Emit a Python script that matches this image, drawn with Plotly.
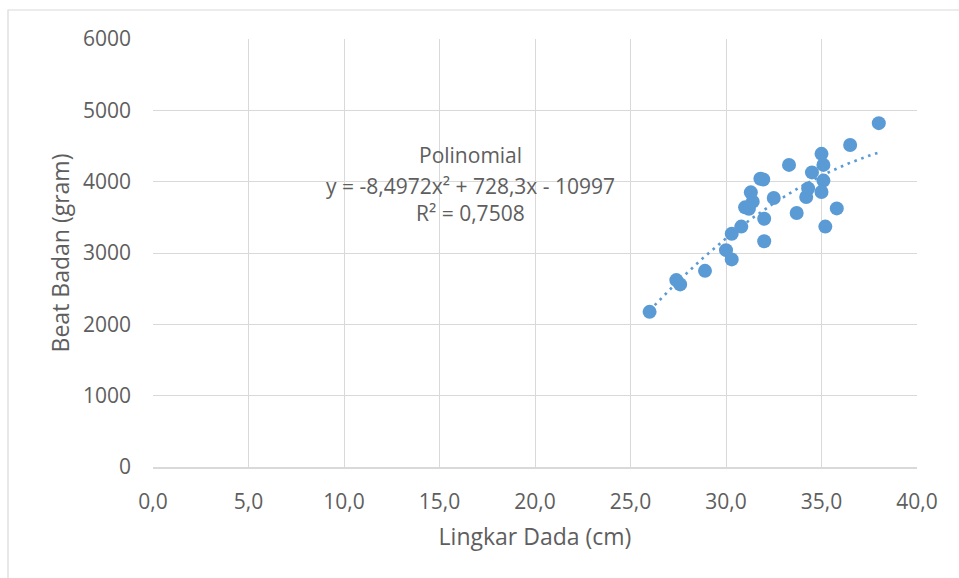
import numpy as np
import plotly.graph_objects as go

# Data
lingkar_dada = [26.0, 27.4, 27.6, 28.9, 30.0, 30.3, 30.3, 30.8, 31.0, 31.2, 31.4, 31.3,
                31.8, 31.95, 32.0, 32.0, 32.5, 33.3, 33.7, 34.2, 34.3, 34.5, 35.0, 35.1,
                35.1, 35.0, 35.2, 35.8, 36.5, 38.0]
berat_badan = [2175, 2620, 2560, 2750, 3040, 2910, 3270, 3370, 3640, 3620, 3720, 3850,
               4040, 4030, 3480, 3165, 3770, 4235, 3560, 3785, 3905, 4130, 4390, 4235,
               4015, 3855, 3370, 3625, 4515, 4820]

# Polynomial trendline coefficients as printed on the chart
poly_coef = [-8.4972, 728.3, -10997]
trend_label = ["Polinomial", "y = -8,4972x² + 728,3x - 10997", "R² = 0,7508"]

x_ticks = [0, 5, 10, 15, 20, 25, 30, 35, 40]
x_ticktext = ["0,0", "5,0", "10,0", "15,0", "20,0", "25,0", "30,0", "35,0", "40,0"]
y_ticks = [0, 1000, 2000, 3000, 4000, 5000, 6000]

FONT = "Open Sans"
TXT = "#5e5e5e"
BLUE = "#5B9BD5"
GRID = "#D9D9D9"

xt = np.linspace(min(lingkar_dada), max(lingkar_dada), 200)
yt = np.polyval(poly_coef, xt)

fig = go.Figure()
fig.add_trace(go.Scatter(x=xt, y=yt, mode="lines",
                         line=dict(color=BLUE, width=2.6, dash="2.6px,4.7px"),
                         hoverinfo="skip", showlegend=False))
fig.add_trace(go.Scatter(x=lingkar_dada, y=berat_badan, mode="markers",
                         marker=dict(color=BLUE, size=14, line=dict(width=0)),
                         showlegend=False))

for txt, yv in zip(trend_label, [4374, 3939, 3561]):
    fig.add_annotation(x=16.6, y=yv, xref="x", yref="y", text=txt, showarrow=False,
                       font=dict(family=FONT, size=21, color=TXT), xanchor="center", yanchor="middle")

fig.add_shape(type="rect", xref="paper", yref="paper", x0=-0.1898, x1=1.3, y0=-0.6, y1=1.0678,
              line=dict(color=GRID, width=1.2), fillcolor="rgba(0,0,0,0)", layer="below")

fig.update_layout(
    width=959, height=578,
    margin=dict(l=153, r=42, t=39, b=111),
    paper_bgcolor="white", plot_bgcolor="rgba(0,0,0,0)",
    font=dict(family=FONT, size=21, color=TXT),
    xaxis=dict(range=[0, 40], tickvals=x_ticks, ticktext=x_ticktext, showgrid=True,
               gridcolor=GRID, gridwidth=1.4, zeroline=False, showline=True, linecolor=GRID,
               linewidth=1.5, ticks="", ticklabelstandoff=15, tickfont=dict(size=21),
               title=dict(text="Lingkar Dada (cm)", font=dict(size=23), standoff=15),
               mirror=False, fixedrange=True),
    yaxis=dict(range=[0, 6000], tickvals=y_ticks, showgrid=True, gridcolor=GRID,
               gridwidth=1.4, zeroline=False, showline=False, ticks="",
               ticklabelstandoff=21, tickfont=dict(size=21),
               title=dict(text="Beat Badan (gram)", font=dict(size=23), standoff=6),
               fixedrange=True),
)

fig.write_html("out.html", config={"displayModeBar": False},
               post_script="document.body.style.margin='0';document.body.style.overflow='hidden';")
